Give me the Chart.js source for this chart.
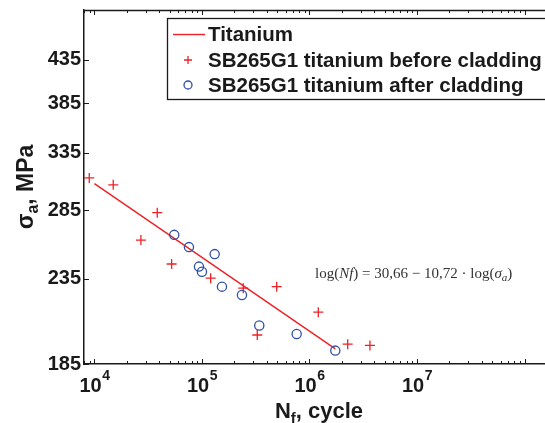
<!DOCTYPE html>
<html><head><meta charset="utf-8">
<script src="https://cdn.jsdelivr.net/npm/chart.js@4.4.0/dist/chart.umd.min.js"></script>
<style>html,body{margin:0;padding:0;background:#fff;}#c{display:block;}</style>
</head><body>
<canvas id="c" width="545" height="423"></canvas>
<script>
// ---- data ----
const fitCycles = [1e4, 1.74e6];
const fitStress = [307, 193];
const beforeCycles = [8950, 14960, 27070, 38400, 52240, 120500, 242200, 326900, 495500, 1208000, 2266000, 3650000];
const beforeStress = [312, 306, 262, 283, 245, 235.4, 228.9, 200.7, 229.9, 214, 195.6, 194.9];
const afterCycles = [55270, 75700, 93800, 100000, 131300, 153500, 235600, 341300, 760000, 1738000];
const afterStress = [265.9, 256.9, 243.2, 239.7, 251.9, 229.9, 224.6, 206.1, 201.3, 192.1];
const yTickValues = [185, 235, 285, 335, 385, 435];
const xMajorExponents = [4, 5, 6, 7];
const seriesLabels = ['Titanium', 'SB265G1 titanium before cladding', 'SB265G1 titanium after cladding'];
const xTitle = ['N', 'f', ', cycle'];
const yTitle = ['σ', 'a', ', MPa'];
const equationParts = [['log(', 'n'], ['Nf', 'i'], [') = 30,66 − 10,72 · log(', 'n'], ['σ', 'i'], ['a', 'sub'], [')', 'n']];

const RED = 'rgb(238,32,36)';
const BLUE = 'rgb(48,80,168)';
const INK = '#1a1a1a';
const SANS = '"Liberation Sans", Arial, sans-serif';
const SERIF = '"Liberation Serif", "Times New Roman", serif';

const pts = (xs, ys) => xs.map((x, i) => ({x: x, y: ys[i]}));

const decor = {
  id: 'decor',
  afterDatasetsDraw(chart) {
    const ctx = chart.ctx, a = chart.chartArea;
    const xs = chart.scales.x, ys = chart.scales.y;
    ctx.save();
    ctx.strokeStyle = INK;
    ctx.lineWidth = 1.3;
    ctx.beginPath(); ctx.moveTo(a.left, a.top + 0.5); ctx.lineTo(a.right, a.top + 0.5); ctx.stroke();
    ctx.lineWidth = 1;
    for (let e = 3; e <= 8; e++) {
      for (let m = 1; m <= 9; m++) {
        const v = m * Math.pow(10, e);
        if (v < xs.min || v > xs.max) continue;
        const px = Math.round(xs.getPixelForValue(v)) + 0.5;
        const len = m === 1 ? 5 : 3;
        ctx.beginPath();
        ctx.moveTo(px, a.bottom); ctx.lineTo(px, a.bottom - len);
        ctx.moveTo(px, a.top); ctx.lineTo(px, a.top + len);
        ctx.stroke();
      }
    }
    yTickValues.forEach(v => {
      const py = Math.round(ys.getPixelForValue(v)) + 0.5;
      ctx.beginPath(); ctx.moveTo(a.left, py); ctx.lineTo(a.left + 5, py); ctx.stroke();
    });
    ctx.restore();
  },
  afterDraw(chart) {
    const ctx = chart.ctx;
    const xs = chart.scales.x;
    ctx.save();
    ctx.fillStyle = INK;
    ctx.textBaseline = 'alphabetic';
    ctx.textAlign = 'left';
    xMajorExponents.forEach(e => {
      const px = xs.getPixelForValue(Math.pow(10, e));
      ctx.font = 'bold 20px ' + SANS;
      const wb = ctx.measureText('10').width;
      ctx.font = 'bold 14px ' + SANS;
      const we = ctx.measureText(String(e)).width;
      const x0 = px - (wb + we) / 2;
      ctx.font = 'bold 20px ' + SANS;
      ctx.fillText('10', x0, 392);
      ctx.font = 'bold 14px ' + SANS;
      ctx.fillText(String(e), x0 + wb + 0.5, 380);
    });
    const big = 'bold 22px ' + SANS, sub = 'bold 15px ' + SANS;
    ctx.font = big; const wN = ctx.measureText(xTitle[0]).width, wR = ctx.measureText(xTitle[2]).width;
    ctx.font = sub; const wf = ctx.measureText(xTitle[1]).width;
    let x0 = 319 - (wN + wf + wR) / 2;
    ctx.font = big; ctx.fillText(xTitle[0], x0, 418);
    ctx.font = sub; ctx.fillText(xTitle[1], x0 + wN, 423);
    ctx.font = big; ctx.fillText(xTitle[2], x0 + wN + wf, 418);
    const bigY = 'bold 23px ' + SANS, subY = 'bold 16px ' + SANS;
    ctx.save();
    ctx.translate(33, 187);
    ctx.rotate(-Math.PI / 2);
    ctx.font = bigY; const ws = ctx.measureText(yTitle[0]).width, wr = ctx.measureText(yTitle[2]).width;
    ctx.font = subY; const wa = ctx.measureText(yTitle[1]).width;
    let y0 = -(ws + wa + wr) / 2;
    ctx.font = bigY; ctx.fillText(yTitle[0], y0, 0);
    ctx.font = subY; ctx.fillText(yTitle[1], y0 + ws, 5);
    ctx.font = bigY; ctx.fillText(yTitle[2], y0 + ws + wa, 0);
    ctx.restore();
    let ex = 315;
    equationParts.forEach(([t, s]) => {
      if (s === 'i') ctx.font = 'italic 15px ' + SERIF;
      else if (s === 'sub') ctx.font = 'italic 11px ' + SERIF;
      else ctx.font = '15px ' + SERIF;
      ctx.fillStyle = '#333';
      ctx.fillText(t, ex, s === 'sub' ? 281 : 278);
      ex += ctx.measureText(t).width;
    });
    ctx.fillStyle = '#fff';
    ctx.fillRect(167, 18, 400, 81);
    ctx.strokeStyle = INK; ctx.lineWidth = 1.3;
    ctx.strokeRect(167.5, 18.5, 400, 81);
    const ds = chart.data.datasets;
    const rows = [34, 60, 85];
    ctx.font = 'bold 20.5px ' + SANS;
    ctx.fillStyle = INK;
    ctx.textBaseline = 'middle';
    rows.forEach((ry, i) => ctx.fillText(ds[i].label, 208, ry + 1));
    ctx.strokeStyle = ds[0].borderColor; ctx.lineWidth = ds[0].borderWidth;
    ctx.beginPath(); ctx.moveTo(173, rows[0] + 0.5); ctx.lineTo(205, rows[0] + 0.5); ctx.stroke();
    ctx.strokeStyle = ds[1].borderColor; ctx.lineWidth = ds[1].borderWidth;
    ctx.beginPath(); ctx.moveTo(184, rows[1]); ctx.lineTo(192, rows[1]); ctx.moveTo(188, rows[1] - 4); ctx.lineTo(188, rows[1] + 4); ctx.stroke();
    ctx.strokeStyle = ds[2].borderColor; ctx.lineWidth = ds[2].borderWidth;
    ctx.beginPath(); ctx.arc(188, rows[2], 4, 0, Math.PI * 2); ctx.stroke();
    ctx.restore();
  }
};

new Chart(document.getElementById('c'), {
  type: 'scatter',
  data: {
    datasets: [
      {label: seriesLabels[0], data: pts(fitCycles, fitStress), showLine: true, borderColor: RED, backgroundColor: RED, borderWidth: 1.4, pointRadius: 0, order: 3},
      {label: seriesLabels[1], data: pts(beforeCycles, beforeStress), showLine: false, pointStyle: 'cross', pointRadius: 5, borderColor: RED, backgroundColor: RED, borderWidth: 1.3, order: 2},
      {label: seriesLabels[2], data: pts(afterCycles, afterStress), showLine: false, pointStyle: 'circle', pointRadius: 4.6, borderColor: BLUE, backgroundColor: 'rgba(0,0,0,0)', borderWidth: 1.3, order: 1}
    ]
  },
  options: {
    responsive: false,
    animation: false,
    devicePixelRatio: 1,
    layout: {autoPadding: false, padding: {top: 10, right: 0, left: 0, bottom: 0}},
    plugins: {legend: {display: false}, tooltip: {enabled: false}},
    scales: {
      x: {
        type: 'logarithmic', position: 'bottom', min: 8000, max: 1.55e8,
        ticks: {display: false},
        grid: {display: false, drawTicks: false},
        border: {display: true, color: INK, width: 1.5},
        afterFit(s) { s.height = 59; s.paddingLeft = 0; s.paddingRight = 0; }
      },
      y: {
        type: 'logarithmic', position: 'left', min: 185, max: 500,
        afterBuildTicks(s) { s.ticks = yTickValues.map(v => ({value: v})); },
        ticks: {callback: v => String(v), autoSkip: false, maxRotation: 0, padding: 3, color: INK,
                font: {family: SANS, size: 20, weight: 'bold'}},
        grid: {display: false, drawTicks: false},
        border: {display: true, color: INK, width: 1.5},
        afterFit(s) { s.width = 84; s.paddingTop = 0; s.paddingBottom = 0; }
      }
    }
  },
  plugins: [decor]
});
</script>
</body></html>
